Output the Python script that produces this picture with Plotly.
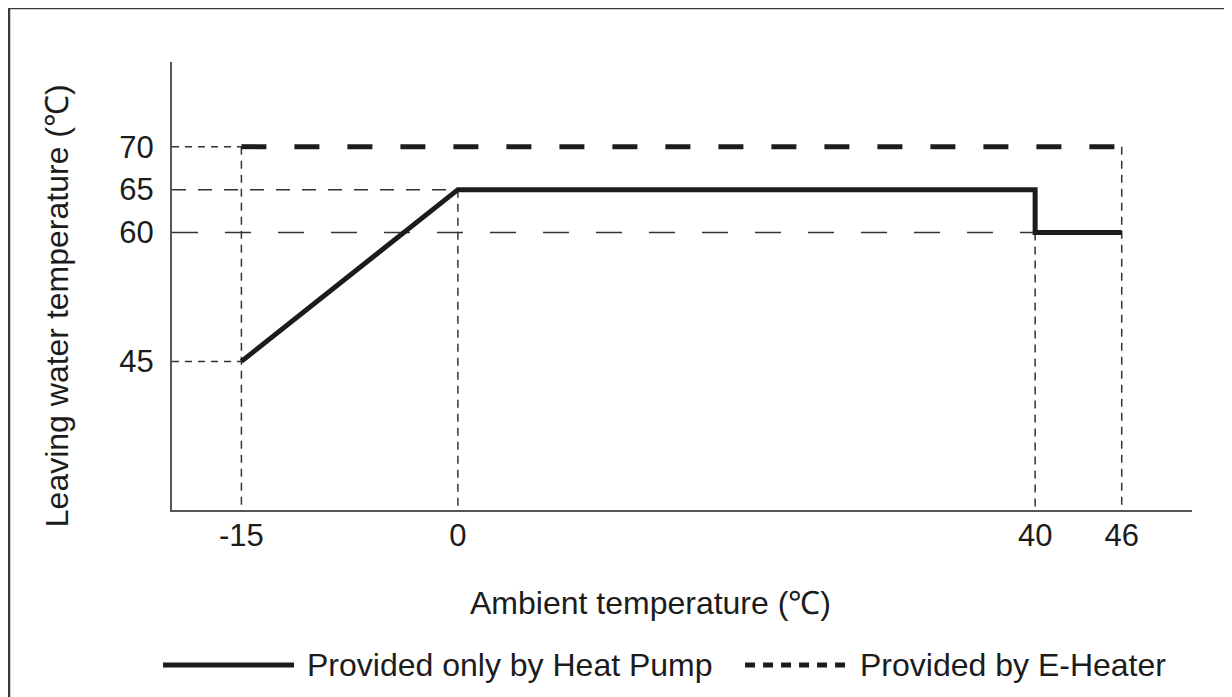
"""Operating range chart: leaving water temperature vs ambient temperature."""
import plotly.graph_objects as go

# data
HEAT_PUMP_X = [-15, 0, 40, 40, 46]
HEAT_PUMP_Y = [45, 65, 65, 60, 60]
E_HEATER_X = [-15, 46]
E_HEATER_Y = [70, 70]

X_TICKS = [-15, 0, 40, 46]
Y_TICKS = [45, 60, 65, 70]

# guide lines: (level, end of guide along the other axis, dash)
H_GUIDES = [(70, -15, "7px,6px"), (65, 0, "14px,12px"), (60, 46, "26px,27px"), (45, -15, "7px,6px")]
V_GUIDES = [(-15, 70), (0, 65), (40, 60), (46, 70)]

X_RANGE = [-19.81, 50.87]
Y_RANGE = [27.7, 79.86]

FONT = "Liberation Sans, Arial, sans-serif"
INK = "#1c1c1c"
GUIDE = "#333333"

fig = go.Figure()

for level, end, dash in H_GUIDES:
    fig.add_trace(go.Scatter(
        x=[X_RANGE[0], end], y=[level, level], mode="lines",
        line=dict(color=GUIDE, width=1.5, dash=dash),
        hoverinfo="skip", showlegend=False,
    ))

for xv, top in V_GUIDES:
    fig.add_trace(go.Scatter(
        x=[xv, xv], y=[top, Y_RANGE[0]], mode="lines",
        line=dict(color=GUIDE, width=1.5, dash="8px,6px"),
        hoverinfo="skip", showlegend=False,
    ))

fig.add_trace(go.Scatter(
    x=E_HEATER_X, y=E_HEATER_Y, mode="lines", name="Provided by E-Heater",
    line=dict(color=INK, width=5, dash="25px,28px"), showlegend=False,
))
fig.add_trace(go.Scatter(
    x=HEAT_PUMP_X, y=HEAT_PUMP_Y, mode="lines", name="Provided only by Heat Pump",
    line=dict(color=INK, width=5), showlegend=False,
))

# hand-made legend below the axis title
LEG_Y = -0.346
shapes = [
    dict(type="line", xref="paper", yref="paper", x0=-0.0088, x1=0.1196, y0=LEG_Y, y1=LEG_Y,
         line=dict(color=INK, width=5)),
    dict(type="line", xref="paper", yref="paper", x0=0.5618, x1=0.6627, y0=LEG_Y, y1=LEG_Y,
         line=dict(color=INK, width=5, dash="10px,8px")),
    # outer frame
    dict(type="rect", xref="paper", yref="paper", x0=-0.1598, x1=1.2, y0=-0.6, y1=1.1205,
         line=dict(color="#3a3a3a", width=2.5), layer="below"),
]

txt = dict(size=32, color=INK, family=FONT)
annotations = [
    dict(text="Leaving water temperature (℃)", xref="paper", yref="paper", x=-0.1127, y=0.455,
         xanchor="center", yanchor="middle", textangle=-90, showarrow=False, font=txt),
    dict(text="Ambient temperature (℃)", xref="paper", yref="paper", x=0.4696, y=-0.2076,
         xanchor="center", yanchor="middle", showarrow=False, font=txt),
    dict(text="Provided only by Heat Pump", xref="paper", yref="paper", x=0.1304, y=LEG_Y,
         xanchor="left", yanchor="middle", showarrow=False, font=txt),
    dict(text="Provided by E-Heater", xref="paper", yref="paper", x=0.6725, y=LEG_Y,
         xanchor="left", yanchor="middle", showarrow=False, font=txt),
]

# the page body keeps its 8px margin, so the figure is 8px smaller on each side
fig.update_layout(
    width=1224, height=689,
    margin=dict(l=164, r=40, t=54, b=187),
    paper_bgcolor="white", plot_bgcolor="white",
    font=dict(family=FONT, size=31, color=INK),
    shapes=shapes,
    annotations=annotations,
    xaxis=dict(
        range=X_RANGE, tickvals=X_TICKS, ticktext=[str(v) for v in X_TICKS],
        showgrid=False, zeroline=False, showline=True, linecolor="#555555", linewidth=2,
        ticks="", ticklabelstandoff=-3, fixedrange=True,
    ),
    yaxis=dict(
        range=Y_RANGE, tickvals=Y_TICKS, ticktext=[str(v) for v in Y_TICKS],
        showgrid=False, zeroline=False, showline=True, linecolor="#555555", linewidth=2,
        ticks="", ticklabelstandoff=10, fixedrange=True,
    ),
)

fig.write_html("out.html")
